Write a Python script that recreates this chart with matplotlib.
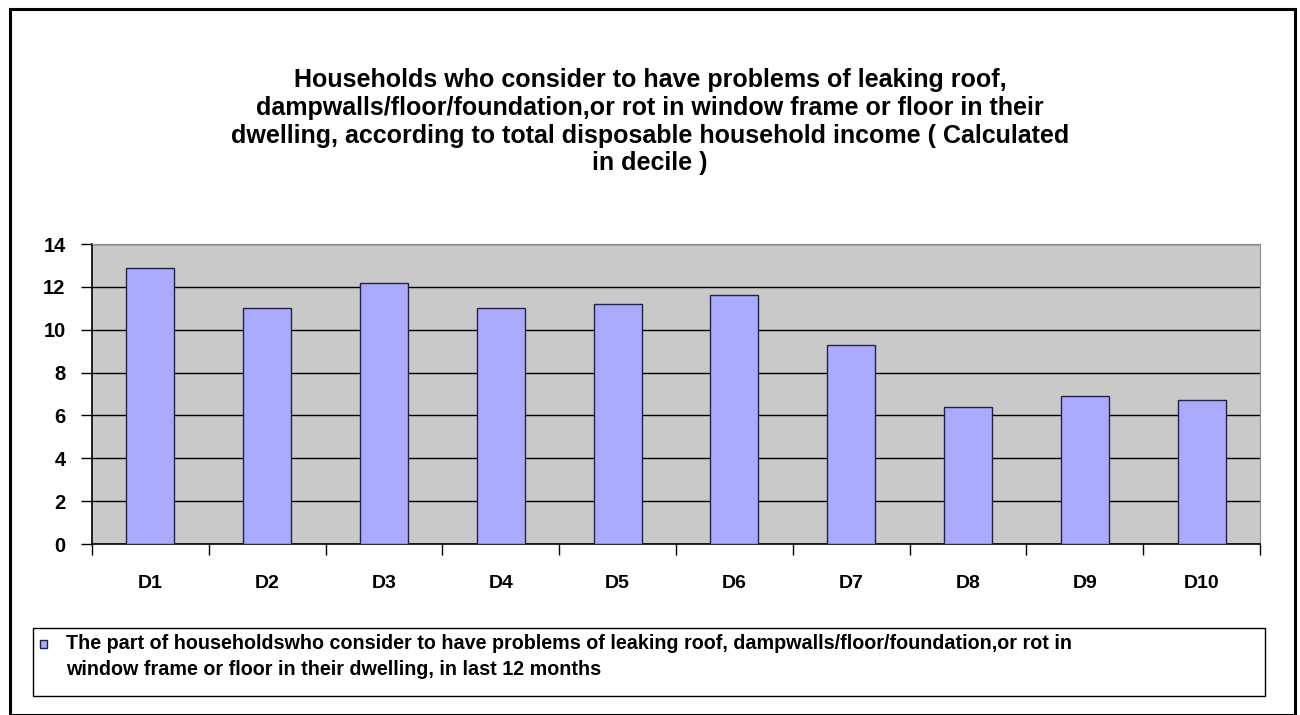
import matplotlib
matplotlib.use("Agg")
import matplotlib.pyplot as plt
from matplotlib.patches import Rectangle

# --- data -------------------------------------------------------------------
deciles = ["D1", "D2", "D3", "D4", "D5", "D6", "D7", "D8", "D9", "D10"]
share = [12.9, 11.0, 12.2, 11.0, 11.2, 11.6, 9.3, 6.4, 6.9, 6.7]
y_ticks = [0, 2, 4, 6, 8, 10, 12, 14]

TITLE = ("Households who consider to have problems of leaking roof,\n"
         "dampwalls/floor/foundation,or rot in window frame or floor in their\n"
         "dwelling, according to total disposable household income ( Calculated\n"
         "in decile )")
SERIES = ("The part of householdswho consider to have problems of leaking roof, "
          "dampwalls/floor/foundation,or rot in\n"
          "window frame or floor in their dwelling, in last 12 months")

BAR = "#AAAAFF"
BAR_EDGE = "#222244"
PLOT_BG = "#C9C9C9"
W, H = 1300, 715


def fx(px):
    return px / W


def fy(py):
    return 1 - py / H


plt.rcParams["font.family"] = ["Liberation Sans", "DejaVu Sans"]
fig = plt.figure(figsize=(W / 100, H / 100), dpi=100)

# outer chart border
fig.patches.append(Rectangle((fx(10), 0.0), fx(1285), 1 - 9 / H,
                             transform=fig.transFigure, fill=False,
                             edgecolor="black", lw=2.2))

ax = fig.add_axes([fx(92), fy(544), fx(1260 - 92), (544 - 244) / H])
ax.set_facecolor(PLOT_BG)
x = range(len(deciles))
bars = ax.bar(x, share, width=0.41, color=BAR, edgecolor=BAR_EDGE,
              lw=1.0, zorder=3)

ax.set_ylim(0, 14)
ax.set_xlim(-0.5, len(deciles) - 0.5)
ax.set_yticks(y_ticks)
ax.set_yticklabels([str(t) for t in y_ticks], fontsize=14.5, fontweight="bold")
ax.yaxis.grid(True, color="black", lw=1.0, zorder=1)
ax.set_axisbelow(True)

# category labels centred, tick marks on category boundaries
ax.set_xticks([i + 0.5 for i in range(-1, len(deciles))], minor=False)
ax.set_xticklabels([""] * (len(deciles) + 1))
ax.set_xticks(list(x), minor=True)
ax.set_xticklabels(deciles, minor=True, fontsize=14, fontweight="bold")
ax.tick_params(axis="x", which="major", length=8, width=1.0, direction="out")
ax.tick_params(axis="x", which="minor", length=0, pad=22)
ax.tick_params(axis="y", length=8, width=1.0, pad=11)

for side in ("top", "right"):
    ax.spines[side].set_color("#8c8c8c")
ax.spines["left"].set_color("black")
ax.spines["bottom"].set_color("black")
ax.spines["left"].set_linewidth(1.2)
ax.spines["bottom"].set_linewidth(1.2)

fig.text(fx(650), fy(68), TITLE, ha="center", va="top", fontsize=18,
         fontweight="bold", linespacing=1.2)

# legend box, drawn by hand so the swatch sits on the first text line
fig.patches.append(Rectangle((fx(33), fy(696)), fx(1265 - 33), (696 - 628) / H,
                             transform=fig.transFigure, facecolor="white",
                             edgecolor="black", lw=1.0))
fig.patches.append(Rectangle((fx(40), fy(648)), fx(7), 8 / H,
                             transform=fig.transFigure, facecolor=BAR,
                             edgecolor=BAR_EDGE, lw=1.0))
fig.text(fx(66), fy(634), SERIES, ha="left", va="top", fontsize=14.2,
         fontweight="bold", linespacing=1.45)

fig.savefig("out.png", dpi=100)
